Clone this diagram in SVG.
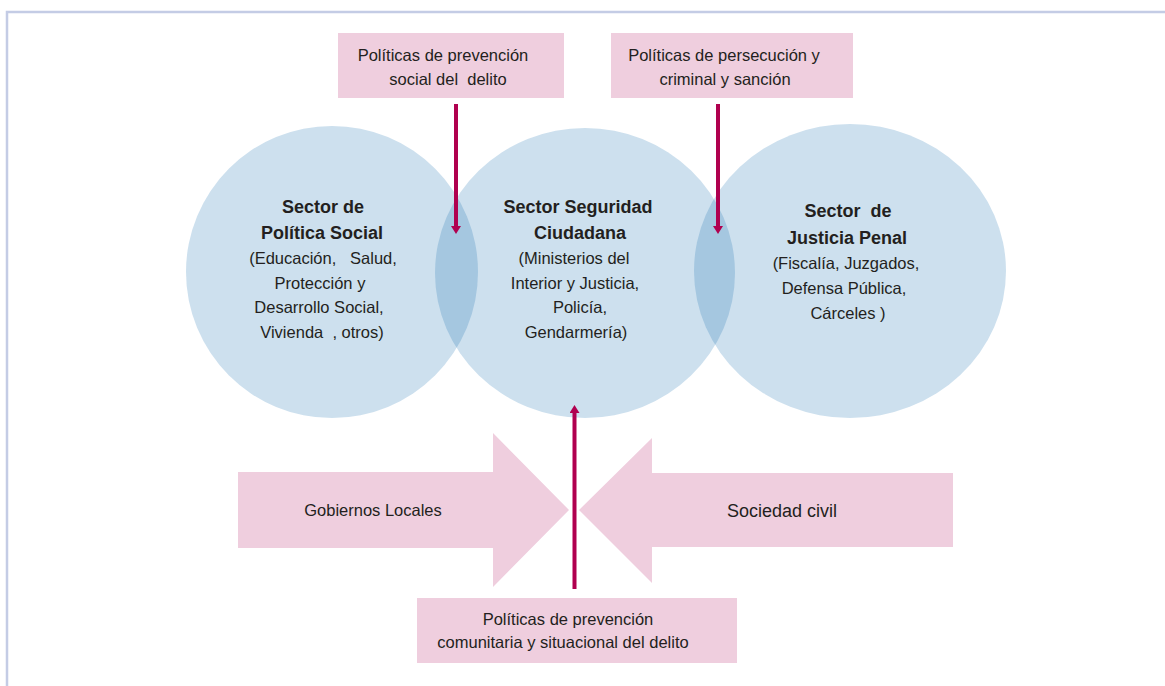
<svg xmlns="http://www.w3.org/2000/svg" width="1165" height="686" viewBox="0 0 1165 686">
<defs>
<style>
.frame{fill:none;stroke:#c4cce5;stroke-width:2.5}
.circ{fill:rgb(5,100,170);fill-opacity:0.2}
.pink{fill:#efcede}
.t{font-family:"Liberation Sans",Arial,sans-serif;font-size:16.5px;fill:#231f20;text-anchor:middle;white-space:pre}
.b{font-family:"Liberation Sans",Arial,sans-serif;font-size:18px;font-weight:bold;fill:#231f20;text-anchor:middle;white-space:pre}
.conn{stroke:#b0004f;stroke-width:4;fill:none;marker-end:url(#ah)}
</style>
<marker id="ah" viewBox="0 0 8 10" refX="0" refY="5" markerWidth="8" markerHeight="10" markerUnits="userSpaceOnUse" orient="auto">
<path d="M0,0 L8,5 L0,10 z" fill="#b0004f"/>
</marker>
</defs>
<rect width="1165" height="686" fill="#ffffff"/>
<path class="frame" d="M7,686 V12 H1165"/>

<g id="sector-politica-social">
<ellipse class="circ" cx="332" cy="272" rx="146" ry="146"/>
<text class="b" x="323" y="213">Sector de</text>
<text class="b" x="322" y="239">Política Social</text>
<text class="t" x="323" y="264" xml:space="preserve">(Educación,   Salud,</text>
<text class="t" x="320" y="289">Protección y</text>
<text class="t" x="319" y="313">Desarrollo Social,</text>
<text class="t" x="322" y="338" xml:space="preserve">Vivienda  , otros)</text>
</g>

<g id="sector-seguridad-ciudadana">
<ellipse class="circ" cx="585" cy="273" rx="150" ry="145"/>
<text class="b" x="578" y="213">Sector Seguridad</text>
<text class="b" x="580" y="239">Ciudadana</text>
<text class="t" x="574" y="264">(Ministerios del</text>
<text class="t" x="575" y="289">Interior y Justicia,</text>
<text class="t" x="580" y="313">Policía,</text>
<text class="t" x="576" y="338">Gendarmería)</text>
</g>

<g id="sector-justicia-penal">
<ellipse class="circ" cx="850" cy="271" rx="156" ry="147"/>
<text class="b" x="848" y="217" xml:space="preserve">Sector  de</text>
<text class="b" x="847" y="244">Justicia Penal</text>
<text class="t" x="846" y="269">(Fiscalía, Juzgados,</text>
<text class="t" x="844" y="294">Defensa Pública,</text>
<text class="t" x="848" y="319">Cárceles )</text>
</g>

<g id="gobiernos-locales">
<polygon class="pink" points="238,472 493,472 493,433 569,510 493,587 493,548 238,548"/>
<text class="t" x="373" y="516">Gobiernos Locales</text>
</g>

<g id="sociedad-civil">
<polygon class="pink" points="953,473 652,473 652,438 579,510 652,583 652,547 953,547"/>
<text class="t" x="782" y="517" style="font-size:18px">Sociedad civil</text>
</g>

<g id="prevencion-social">
<rect class="pink" x="338" y="33" width="226" height="65"/>
<text class="t" x="443" y="61">Políticas de prevención</text>
<text class="t" x="448" y="85" xml:space="preserve">social del  delito</text>
</g>

<g id="persecucion-sancion">
<rect class="pink" x="611" y="33" width="242" height="65"/>
<text class="t" x="724" y="61">Políticas de persecución y</text>
<text class="t" x="725" y="85">criminal y sanción</text>
</g>

<g id="prevencion-comunitaria">
<rect class="pink" x="417" y="598" width="320" height="65"/>
<text class="t" x="568" y="625">Políticas de prevención</text>
<text class="t" x="563" y="648">comunitaria y situacional del delito</text>
</g>

<g id="connectors">
<line class="conn" x1="456" y1="104" x2="456" y2="226"/>
<line class="conn" x1="718" y1="104" x2="718" y2="226"/>
<line class="conn" x1="574.5" y1="589" x2="574.5" y2="413"/>
</g>
</svg>
